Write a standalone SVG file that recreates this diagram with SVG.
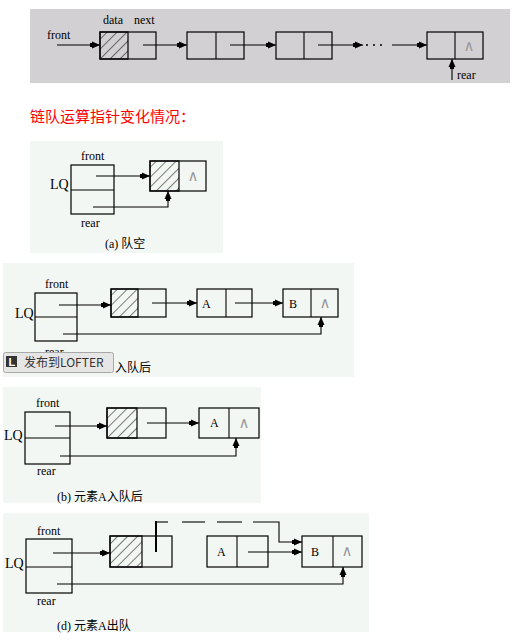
<svg xmlns="http://www.w3.org/2000/svg" width="520" height="641" viewBox="0 0 520 641">
<defs>
<pattern id="hatch" patternUnits="userSpaceOnUse" width="7" height="7" patternTransform="rotate(45)">
<rect width="7" height="7" fill="none"/>
<line x1="0" y1="0" x2="0" y2="7" stroke="#000" stroke-width="1"/>
</pattern>
<marker id="ah" markerUnits="userSpaceOnUse" markerWidth="11" markerHeight="8" refX="10" refY="4" orient="auto">
<path d="M0,2 L2,2 L2,0.5 L10,4 L2,7.5 L2,6 L0,6 z" fill="#000"/>
</marker>
<clipPath id="aboveBtn"><rect x="0" y="263" width="120" height="89"/></clipPath>
</defs>
<style>
.box{fill:none;stroke:#000;stroke-width:1.2}
.hat{fill:url(#hatch);stroke:#000;stroke-width:1.2}
.ln{fill:none;stroke:#000;stroke-width:1.1}
.ar{fill:none;stroke:#000;stroke-width:1.1;marker-end:url(#ah)}
.t{font-family:"Liberation Serif",serif;font-size:12px;fill:#000}
.lq{font-family:"Liberation Serif",serif;font-size:14px;fill:#000}
.nil{font-family:"DejaVu Sans",sans-serif;font-size:15px;fill:#999;text-anchor:middle}
.cap{font-family:"Liberation Serif","Noto Sans CJK SC",serif;font-size:12px;fill:#000}
</style>

<g id="panel-top">
<rect x="30" y="9" width="480" height="74" fill="#d3d0d3"/>
<text class="t" x="47" y="39">front</text>
<text class="t" x="103" y="24">data</text>
<text class="t" x="134" y="24">next</text>
<g id="n1"><rect class="hat" x="100" y="32" width="28" height="27"/><rect class="box" x="100" y="32" width="56" height="27"/></g>
<g id="n2"><rect class="box" x="187" y="32" width="57" height="27"/><line class="ln" x1="216" y1="32" x2="216" y2="59"/></g>
<g id="n3"><rect class="box" x="276" y="32" width="56" height="27"/><line class="ln" x1="304" y1="32" x2="304" y2="59"/></g>
<g id="n4"><rect class="box" x="427" y="32" width="56" height="27"/><line class="ln" x1="455" y1="32" x2="455" y2="59"/><text class="nil" x="469" y="51">∧</text></g>
<circle cx="367" cy="45" r="1" fill="#000"/><circle cx="374" cy="45" r="1" fill="#000"/><circle cx="381" cy="45" r="1" fill="#000"/>
<text class="t" x="457" y="79">rear</text>
<g id="c-top">
<path class="ar" d="M57,45 H100"/>
<path class="ar" d="M143,45 H187"/>
<path class="ar" d="M230,45 H276"/>
<path class="ar" d="M318,45 H363"/>
<path class="ar" d="M392,45 H427"/>
<path class="ar" d="M452,80 V59"/>
</g>
</g>

<text x="30" y="122" font-family="'Noto Sans CJK SC',sans-serif" font-size="15" fill="#f00">链队运算指针变化情况：</text>

<g id="panel-a">
<rect x="30" y="141" width="193" height="112" fill="#f3f7f3"/>
<g id="a-lq"><rect class="box" x="71" y="165" width="43" height="49"/><line class="ln" x1="71" y1="190" x2="114" y2="190"/></g>
<text class="t" x="81" y="160">front</text>
<text class="lq" x="50" y="189">LQ</text>
<text class="t" x="81" y="227">rear</text>
<g id="a-n1"><rect class="hat" x="150" y="161" width="29" height="30"/><rect class="box" x="150" y="161" width="56" height="30"/><text class="nil" x="193" y="181">∧</text></g>
<g id="c-a">
<path class="ar" d="M96,176 H150"/>
<path class="ar" d="M93,207 H168 V191"/>
</g>
<text class="cap" x="105" y="248">(a) 队空</text>
</g>

<g id="panel-c">
<rect x="3" y="263" width="351" height="114" fill="#f3f7f3"/>
<g id="c-lq"><rect class="box" x="35" y="293" width="42" height="48"/><line class="ln" x1="35" y1="317" x2="77" y2="317"/></g>
<text class="t" x="45" y="288">front</text>
<text class="lq" x="15" y="318">LQ</text>
<text class="t" x="45" y="356" clip-path="url(#aboveBtn)">rear</text>
<g id="c-n1"><rect class="hat" x="111" y="289" width="27" height="28"/><rect class="box" x="111" y="289" width="55" height="28"/></g>
<g id="c-nA"><rect class="box" x="197" y="289" width="55" height="28"/><line class="ln" x1="226" y1="289" x2="226" y2="317"/><text class="t" x="202" y="308">A</text></g>
<g id="c-nB"><rect class="box" x="283" y="289" width="55" height="28"/><line class="ln" x1="311" y1="289" x2="311" y2="317"/><text class="t" x="289" y="308">B</text><text class="nil" x="325" y="308">∧</text></g>
<g id="c-c">
<path class="ar" d="M59,305 H111"/>
<path class="ar" d="M152,303 H197"/>
<path class="ar" d="M235,303 H283"/>
<path class="ar" d="M63,334 H321 V317"/>
</g>
<text class="cap" x="115" y="372">入队后</text>
<g id="lofter">
<rect x="3.5" y="352.5" width="110" height="20" rx="2" fill="#e6e6e6" stroke="#a8a8a8"/>
<rect x="6" y="356" width="11" height="11" fill="#333"/>
<text x="8.5" y="366" font-family="'Liberation Sans',sans-serif" font-size="11" font-weight="bold" fill="#fff">L</text>
<text x="24" y="367" font-family="'Noto Sans CJK SC',sans-serif" font-size="12" fill="#333">发布到LOFTER</text>
</g>
</g>

<g id="panel-b">
<rect x="3" y="387" width="258" height="116" fill="#f3f7f3"/>
<g id="b-lq"><rect class="box" x="25" y="412" width="45" height="52"/><line class="ln" x1="25" y1="438" x2="70" y2="438"/></g>
<text class="t" x="36" y="407">front</text>
<text class="lq" x="4" y="440">LQ</text>
<text class="t" x="37" y="475">rear</text>
<g id="b-n1"><rect class="hat" x="107" y="408" width="30" height="30"/><rect class="box" x="107" y="408" width="59" height="30"/></g>
<g id="b-nA"><rect class="box" x="199" y="408" width="60" height="30"/><line class="ln" x1="229" y1="408" x2="229" y2="438"/><text class="t" x="210" y="427">A</text><text class="nil" x="244" y="428">∧</text></g>
<g id="c-b">
<path class="ar" d="M55,426 H107"/>
<path class="ar" d="M147,423 H199"/>
<path class="ar" d="M60,456 H236 V438"/>
</g>
<text class="cap" x="57" y="501">(b) 元素A入队后</text>
</g>

<g id="panel-d">
<rect x="3" y="513" width="366" height="119" fill="#f3f7f3"/>
<g id="d-lq"><rect class="box" x="26" y="539" width="46" height="54"/><line class="ln" x1="26" y1="567" x2="72" y2="567"/></g>
<text class="t" x="37" y="535">front</text>
<text class="lq" x="5" y="568">LQ</text>
<text class="t" x="37" y="605">rear</text>
<g id="d-n1"><rect class="hat" x="110" y="536" width="32" height="31"/><rect class="box" x="110" y="536" width="62" height="31"/></g>
<g id="d-nA"><rect class="box" x="207" y="536" width="61" height="31"/><line class="ln" x1="237" y1="536" x2="237" y2="567"/><text class="t" x="217" y="556">A</text></g>
<g id="d-nB"><rect class="box" x="302" y="536" width="60" height="31"/><line class="ln" x1="333" y1="536" x2="333" y2="567"/><text class="t" x="311" y="556">B</text><text class="nil" x="347" y="556">∧</text></g>
<g id="c-d">
<line x1="156" y1="521" x2="156" y2="552" stroke="#000" stroke-width="2"/>
<line class="ln" x1="156" y1="522" x2="168" y2="522"/>
<line class="ln" x1="182" y1="522" x2="205" y2="522"/>
<line class="ln" x1="217" y1="522" x2="242" y2="522"/>
<path class="ar" d="M253,522 H279 V542 H302"/>
<path class="ar" d="M248,552 H302"/>
<path class="ar" d="M53,553 H110"/>
<path class="ar" d="M57,584 H343 V567"/>
</g>
<text class="cap" x="57" y="630">(d) 元素A出队</text>
</g>
</svg>
